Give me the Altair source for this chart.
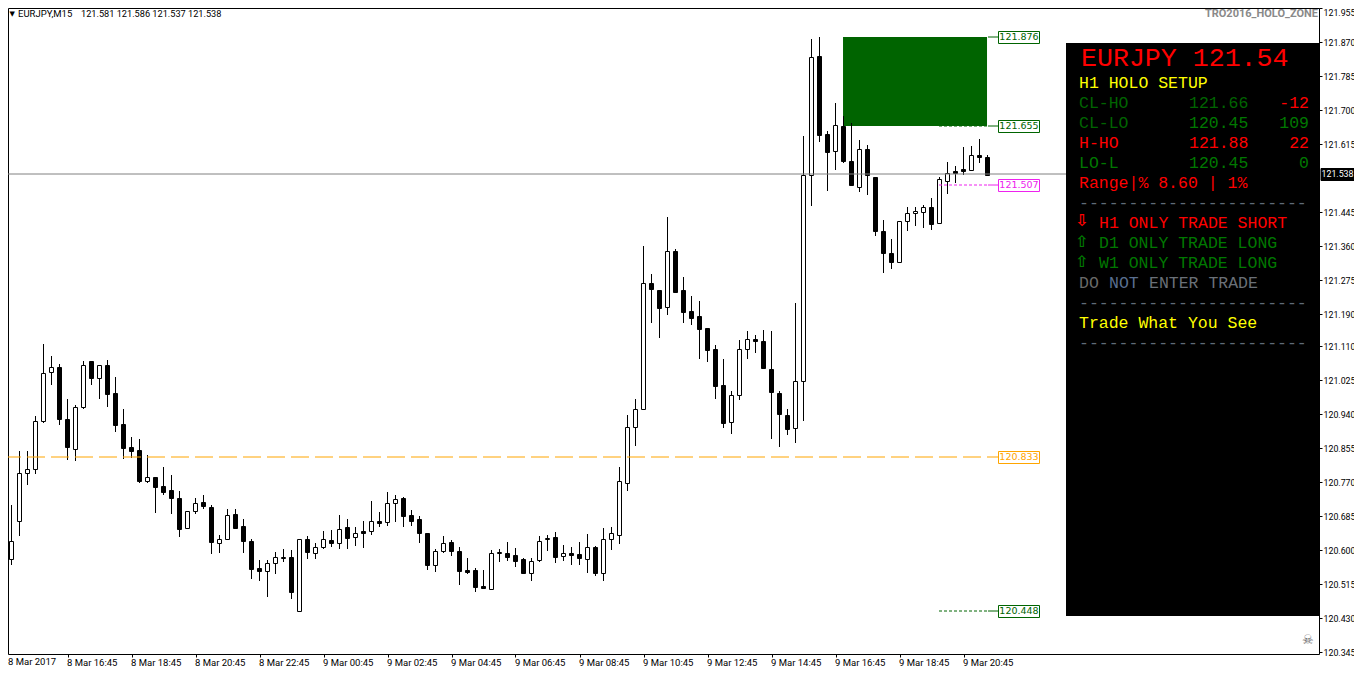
import altair as alt
import pandas as pd

opens = [120.399,120.578,120.671,120.791,120.801,120.923,121.043,121.056,120.928,120.853,120.957,121.072,121.030,121.062,120.992,120.914,120.857,120.849,120.772,120.782,120.759,120.749,120.729,120.655,120.696,120.719,120.707,120.618,120.626,120.689,120.659,120.622,120.554,120.548,120.568,120.580,120.582,120.448,120.626,120.593,120.606,
120.624,120.616,120.657,120.631,120.646,120.648,120.672,120.668,120.716,120.729,120.687,120.677,120.642,120.563,120.598,120.619,120.596,120.549,120.549,120.509,120.502,120.592,120.591,120.586,120.576,120.542,120.575,120.627,120.631,120.585,120.591,120.589,120.578,120.606,120.542,120.628,120.638,120.768,120.907,120.951,121.268,121.248,121.208,121.348,121.248,121.198,121.183,121.153,121.101,121.011,120.918,120.986,121.101,121.126,121.121,121.053,120.993,120.938,120.905,121.021,121.538,121.834,121.638,121.598,121.659,121.573,121.508,121.603,121.531,121.396,121.343,121.320,121.421,121.443,121.445,121.456,121.416,121.523,121.546,121.551,121.550,121.586,121.581]
highs = [120.582,120.712,120.846,120.846,120.934,121.114,121.084,121.064,120.978,120.962,121.072,121.072,121.061,121.074,121.032,120.952,120.882,120.877,120.837,120.782,120.807,120.787,120.747,120.698,120.729,120.737,120.712,120.636,120.702,120.702,120.677,120.628,120.574,120.574,120.594,120.603,120.599,120.628,120.634,120.616,120.647,
120.649,120.687,120.677,120.657,120.672,120.722,120.694,120.744,120.737,120.731,120.699,120.684,120.642,120.602,120.634,120.624,120.607,120.579,120.554,120.549,120.599,120.602,120.619,120.604,120.579,120.579,120.634,120.636,120.644,120.611,120.607,120.619,120.639,120.609,120.654,120.657,120.806,120.938,120.978,121.359,121.289,121.249,121.431,121.351,121.281,121.234,121.221,121.153,121.111,121.076,120.998,121.124,121.146,121.136,121.149,121.146,120.996,120.951,121.216,121.634,121.876,121.881,121.646,121.716,121.684,121.666,121.624,121.611,121.531,121.424,121.376,121.423,121.456,121.456,121.461,121.479,121.531,121.569,121.559,121.607,121.609,121.627,121.586]
lows = [120.384,120.562,120.635,120.762,120.790,120.917,121.012,120.912,120.825,120.822,120.952,121.012,120.977,120.957,120.895,120.827,120.829,120.767,120.767,120.692,120.737,120.689,120.632,120.652,120.689,120.702,120.590,120.592,120.626,120.655,120.592,120.527,120.522,120.482,120.539,120.569,120.477,120.448,120.577,120.577,120.602,
120.607,120.602,120.602,120.610,120.605,120.637,120.657,120.659,120.669,120.657,120.659,120.617,120.549,120.544,120.592,120.585,120.511,120.539,120.494,120.502,120.500,120.569,120.571,120.557,120.539,120.521,120.569,120.596,120.566,120.571,120.561,120.561,120.541,120.534,120.521,120.599,120.614,120.746,120.859,120.951,121.166,121.129,121.186,121.242,121.166,121.161,121.076,121.069,120.976,120.904,120.889,120.974,121.076,121.091,121.051,120.876,120.856,120.886,120.866,120.921,121.459,121.619,121.496,121.549,121.566,121.509,121.494,121.486,121.384,121.291,121.301,121.317,121.396,121.409,121.404,121.399,121.416,121.489,121.517,121.537,121.547,121.567,121.537]
closes = [120.579,120.621,120.791,120.801,120.923,121.041,121.056,120.927,120.857,120.956,121.063,121.030,121.061,120.990,120.912,120.855,120.847,120.772,120.781,120.757,120.745,120.730,120.652,120.696,120.718,120.710,120.620,120.626,120.688,120.655,120.622,120.552,120.547,120.568,120.583,120.582,120.495,120.628,120.595,120.606,120.628,
120.617,120.653,120.630,120.643,120.642,120.671,120.667,120.716,120.726,120.685,120.672,120.642,120.562,120.598,120.616,120.597,120.547,120.545,120.507,120.505,120.593,120.594,120.582,120.572,120.542,120.573,120.623,120.629,120.582,120.593,120.587,120.580,120.606,120.542,120.628,120.643,120.771,120.908,120.951,121.268,121.252,121.205,121.346,121.245,121.195,121.180,121.152,121.100,121.010,120.917,120.988,121.101,121.128,121.122,121.055,120.995,120.940,120.902,121.021,121.538,121.831,121.637,121.595,121.661,121.571,121.512,121.603,121.538,121.397,121.342,121.320,121.421,121.441,121.448,121.456,121.415,121.526,121.541,121.542,121.547,121.586,121.583,121.538]

price_ticks = [121.955,121.870,121.785,121.700,121.615,121.445,121.360,121.275,121.190,121.110,121.025,120.940,120.855,120.770,120.685,120.600,120.515,120.430,120.345]
time_positions = [8,16,24,32,40,48,56,64,72,80,88,96,104,112,120]
time_labels = ["8 Mar 16:45","8 Mar 18:45","8 Mar 20:45","8 Mar 22:45","9 Mar 00:45","9 Mar 02:45","9 Mar 04:45","9 Mar 06:45","9 Mar 08:45","9 Mar 10:45","9 Mar 12:45","9 Mar 14:45","9 Mar 16:45","9 Mar 18:45","9 Mar 20:45"]
first_time_label = "8 Mar 2017"

zone_top, zone_bottom = 121.881, 121.659
zone_start, zone_end = 104.94, 122.94
pivot_orange, pivot_high, pivot_mid, pivot_low, pivot_top = 120.833, 121.659, 121.511, 120.448, 121.881
last_price = 121.5405

W, H = 1311, 646
FONT_UI = "Roboto"
FONT_TAG = "DejaVu Sans"
FONT_MONO = "Liberation Mono"

df = pd.DataFrame({"i": range(len(opens)), "o": opens, "h": highs, "l": lows, "c": closes})
df["top"] = df[["o", "c"]].max(axis=1)
df["bot"] = df[["o", "c"]].min(axis=1)
df["fill"] = ["white" if c >= o else "black" for o, c in zip(opens, closes)]

x_scale = alt.Scale(domain=[0.5625, 164.4375], nice=False, zero=False, padding=0)
y_scale = alt.Scale(domain=[120.33925, 121.95425], nice=False, zero=False, round=True, padding=0)
expr = "[" + ",".join(f"'{t}'" for t in time_labels) + "][datum.value/8-1]"
x_axis = alt.Axis(values=time_positions, labelExpr=expr, title=None, grid=False, orient="bottom",
                  labelFont=FONT_UI, labelFontSize=9.5, labelColor="black", labelAlign="left", labelOffset=-1,
                  labelPadding=0, tickColor="black", tickSize=3, domain=False, labelOverlap=False, labelFlush=False, labelBound=False)
y_axis = alt.Axis(values=price_ticks, format=".3f", title=None, grid=False, orient="right",
                  labelFont=FONT_UI, labelFontSize=8.8, labelColor="black", labelPadding=1, tickColor="black", tickSize=3,
                  domain=False, labelOverlap=False, labelFlush=False, labelBound=False,
                  labelBaseline={"condition": {"test": "datum.value > 121.9", "value": "top"}, "value": "middle"})
X = lambda f: alt.X(f, type="quantitative", scale=x_scale, axis=x_axis)
Y = lambda f: alt.Y(f, type="quantitative", scale=y_scale, axis=y_axis)
one = alt.Data(values=[{}])


def px(v):
    return v - 8


def text(s, x, y, color, size, font, align="left", weight="normal"):
    return alt.Chart(one).mark_text(align=align, baseline="middle", font=font, fontSize=size, fontWeight=weight, color=color).encode(
        x=alt.value(px(x)), y=alt.value(px(y)), text=alt.value(s))


def hline(p, x1, x2, color, dash=None, offset=None, width=1):
    kw = {"strokeDash": dash} if dash else {}
    if offset:
        kw["strokeDashOffset"] = offset
    return alt.Chart(pd.DataFrame({"p": [p]})).mark_rule(color=color, strokeWidth=width, **kw).encode(
        x=alt.value(px(x1)), x2=alt.value(px(x2)), y=Y("p"))


def tag(p, label, color, fill="white", x1=998.5, x2=1039.5, text_color=None, font=FONT_TAG, size=9.5):
    d = pd.DataFrame({"p": [p]})
    box = alt.Chart(d).mark_rect(fill=fill, stroke=color, strokeWidth=1, width=x2 - x1, height=12, yOffset=0.5).encode(
        x=alt.value(px((x1 + x2) / 2)), y=Y("p"))
    t = alt.Chart(d).mark_text(align="center", baseline="middle", font=font, fontSize=size, color=text_color or color).encode(
        x=alt.value(px((x1 + x2) / 2)), y=Y("p"), text=alt.value(label))
    return [box, t]


zone = alt.Chart(pd.DataFrame({"a": [zone_start], "b": [zone_end], "t": [zone_top], "u": [zone_bottom]})).mark_rect(color="#006400").encode(
    x=X("a"), x2="b:Q", y=Y("t"), y2="u:Q")

wicks = alt.Chart(df).mark_rule(color="black", strokeWidth=1, clip=True).encode(
    x=X("i"), y=Y("l"), y2="h:Q")
bodies = alt.Chart(df).mark_bar(size=4, stroke="black", strokeWidth=1, clip=True, yOffset=0.5, y2Offset=0.5).encode(
    x=X("i"), y=Y("bot"), y2="top:Q", fill=alt.Fill("fill:N", scale=None))

layers = [zone, wicks, bodies]
layers += [
    hline(last_price, 8, 1066, "#808080"),
    hline(pivot_orange, 8, 998, "#FFA500", dash=[18, 6], offset=5),
    hline(pivot_high, 939, 988, "#006400", dash=[3, 2]),
    hline(pivot_mid, 939, 988, "#EE22EE", dash=[3, 2]),
    hline(pivot_low, 939, 988, "#006400", dash=[3, 2]),
    hline(pivot_top, 988, 998, "#006400"),
    hline(pivot_high, 988, 998, "#006400"),
    hline(pivot_mid, 988, 998, "#EE22EE"),
    hline(pivot_low, 988, 998, "#006400"),
]
layers += tag(pivot_top, "121.876", "#006400")
layers += tag(pivot_high, "121.655", "#006400")
layers += tag(pivot_mid, "121.507", "#EE22EE")
layers += tag(pivot_orange, "120.833", "#FFA500")
layers += tag(pivot_low, "120.448", "#006400")
layers += tag(last_price, "121.538", "black", fill="black", x1=1321, x2=1354, text_color="white", font=FONT_UI, size=8.8)

# header and corner texts
layers += [
    text("▼", 9.5, 14, "black", 7, FONT_TAG),
    text("EURJPY,M15", 18, 14, "black", 9.5, FONT_UI),
    text("121.581 121.586 121.537 121.538", 81, 14, "black", 9.2, FONT_UI),
    text("TRO2016_HOLO_ZONE", 1318, 14, "#8A8A8A", 11, FONT_UI, align="right", weight="bold"),
    text(first_time_label, 8, 661.5, "black", 9.5, FONT_UI),
    text("☠", 1302, 640, "#666666", 13, FONT_TAG),
]

# info panel
panel = alt.Chart(one).mark_rect(color="black").encode(
    x=alt.value(px(1066)), x2=alt.value(px(1319)), y=alt.value(px(43)), y2=alt.value(px(616)))
layers.append(panel)

RED, YEL, DG, G, GR = "#FF0000", "#FFFF00", "#006400", "#007800", "#5F6B78"
DASHES = "-----------------------"
M = 16.5
ARROW = 16
layers += [
    text("EURJPY 121.54", 1081, 58, RED, 26.6, FONT_MONO),
    text("H1 HOLO SETUP", 1079, 83, YEL, M, FONT_MONO),
    text("CL-HO", 1079, 103, DG, M, FONT_MONO),
    text("121.66", 1189, 103, DG, M, FONT_MONO),
    text("-12", 1309, 103, RED, M, FONT_MONO, align="right"),
    text("CL-LO", 1079, 123, DG, M, FONT_MONO),
    text("120.45", 1189, 123, G, M, FONT_MONO),
    text("109", 1309, 123, G, M, FONT_MONO, align="right"),
    text("H-HO", 1079, 143, RED, M, FONT_MONO),
    text("121.88", 1189, 143, RED, M, FONT_MONO),
    text("22", 1309, 143, RED, M, FONT_MONO, align="right"),
    text("LO-L", 1079, 163, G, M, FONT_MONO),
    text("120.45", 1189, 163, G, M, FONT_MONO),
    text("0", 1309, 163, G, M, FONT_MONO, align="right"),
    text("Range|% 8.60 | 1%", 1079, 183, RED, M, FONT_MONO),
    text(DASHES, 1079, 203, GR, M, FONT_MONO),
    text("⇩", 1075, 221, RED, ARROW, FONT_TAG, weight="bold"),
    text("H1 ONLY TRADE SHORT", 1099, 223, RED, M, FONT_MONO),
    text("⇧", 1075, 242, G, ARROW, FONT_TAG, weight="bold"),
    text("D1 ONLY TRADE LONG", 1099, 243, G, M, FONT_MONO),
    text("⇧", 1075, 262, G, ARROW, FONT_TAG, weight="bold"),
    text("W1 ONLY TRADE LONG", 1099, 263, G, M, FONT_MONO),
    text("DO", 1079, 283, "#6A6A6A", M, FONT_MONO),
    text("NOT", 1109, 283, "#5A6F90", M, FONT_MONO),
    text("ENTER TRADE", 1149, 283, "#6A7078", M, FONT_MONO),
    text(DASHES, 1079, 303, GR, M, FONT_MONO),
    text("Trade What You See", 1079, 323, YEL, M, FONT_MONO),
    text(DASHES, 1079, 343, GR, M, FONT_MONO),
]

chart = alt.layer(*layers).properties(
    width=W, height=H,
    padding={"left": 0, "top": 0, "right": 35, "bottom": 13},
    autosize=alt.AutoSizeParams(type="none"),
    background="white",
).configure_view(stroke="black", strokeWidth=1)

chart.save("out.html", embed_options={"renderer": "svg", "actions": False})
